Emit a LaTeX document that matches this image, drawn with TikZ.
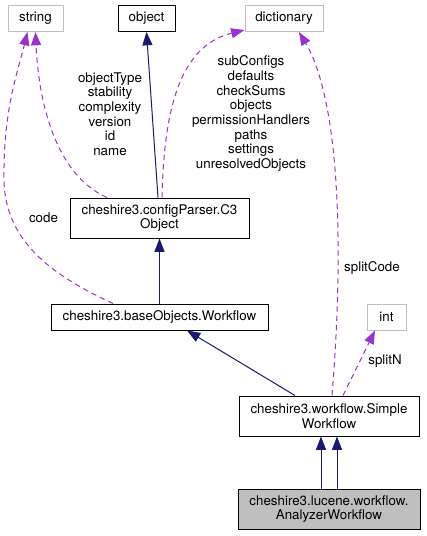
\documentclass[tikz,border=0pt]{standalone}
\usepackage{fontspec}
\setmainfont{TeX Gyre Heros}
\usetikzlibrary{arrows.meta, calc}
\definecolor{edgeblue}{HTML}{191970}
\definecolor{edgepurple}{HTML}{9A32CD}
\definecolor{boxgray}{HTML}{BFBFBF}

\begin{document}
\begin{tikzpicture}[
    x=0.75pt, y=-0.75pt,
    font=\fontsize{10}{11}\selectfont,
    box/.style={rectangle, draw, inner sep=0pt, minimum height=19.5pt, align=center, line width=0.75pt},
    wide/.style={box, minimum height=30pt},
    ext/.style={box, draw=boxgray},
    self/.style={wide, fill=boxgray},
    inherit/.style={-{Triangle[length=10pt,width=7.5pt]}, color=edgeblue, line width=0.75pt},
    member/.style={-{Triangle[length=10pt,width=7.5pt]}, color=edgepurple, line width=0.75pt, dash pattern=on 4pt off 3pt},
    lbl/.style={align=center, inner sep=0pt}
]
\useasboundingbox (0,0) rectangle (427,536);

\node[ext, minimum width=41.25pt] (str) at (35.5,18.5) {string};
\node[box, minimum width=42.75pt] (obj) at (146.5,18.5) {object};
\node[ext, minimum width=58.5pt] (dict) at (284,18.5) {dictionary};
\node[wide, minimum width=134.25pt] (c3) at (159.5,218) {cheshire3.configParser.C3\\Object};
\node[box, minimum width=162.75pt] (wf) at (159.5,317) {cheshire3.baseObjects.Workflow};
\node[ext, minimum width=29.25pt] (int) at (386.5,317) {int};
\node[wide, minimum width=135pt] (simple) at (329,416) {cheshire3.workflow.Simple\\Workflow};
\node[self, minimum width=136.5pt] (analyzer) at (329,509) {cheshire3.lucene.workflow.\\AnalyzerWorkflow};

% inheritance
\draw[inherit] ($(c3.north)+(-1.5,0)$) -- (obj.south);
\draw[inherit] (wf.north) -- (c3.south);
\draw[inherit] ($(simple.north)+(-34,0)$) -- ($(wf.south)+(27.5,0)$);
\draw[inherit] ($(analyzer.north)+(-8,0)$) -- ($(simple.south)+(-8,0)$);
\draw[inherit] ($(analyzer.north)+(8,0)$) -- ($(simple.south)+(8,0)$);

% members
\draw[member] ($(c3.north)+(-52.5,0)$) .. controls +(-52,-23) and +(3,69) .. (str.south);
\draw[member] ($(wf.north)+(-46.5,0)$) .. controls +(-63,-29) and +(1,60) .. (4,180)
    .. controls +(-1,-70) and +(-9.5,39) .. ($(str.south)+(-8,0)$);
\draw[member] ($(c3.north)+(2.5,0)$) .. controls +(2,-88) and +(-65,16) .. ($(dict.south west)+(0,-2)$);
\draw[member] ($(simple.north)+(3,0)$) .. controls +(12,-146) and +(41,69) .. ($(dict.south)+(15,0)$);
\draw[member] ($(simple.north)+(14,0)$) -- ($(int.south)+(-11.5,0)$);

\node[lbl] (lblstr) at (110,114) {objectType\\stability\\complexity\\version\\id\\name};
\node[lbl] (lbldict) at (251,113.5) {subConfigs\\defaults\\checkSums\\objects\\permissionHandlers\\paths\\settings\\unresolvedObjects};
\node[lbl] (lblcode) at (43.5,218) {code};
\node[lbl] (lblsplitcode) at (372,268) {splitCode};
\node[lbl] (lblsplitn) at (385,361) {splitN};
\end{tikzpicture}
\end{document}
